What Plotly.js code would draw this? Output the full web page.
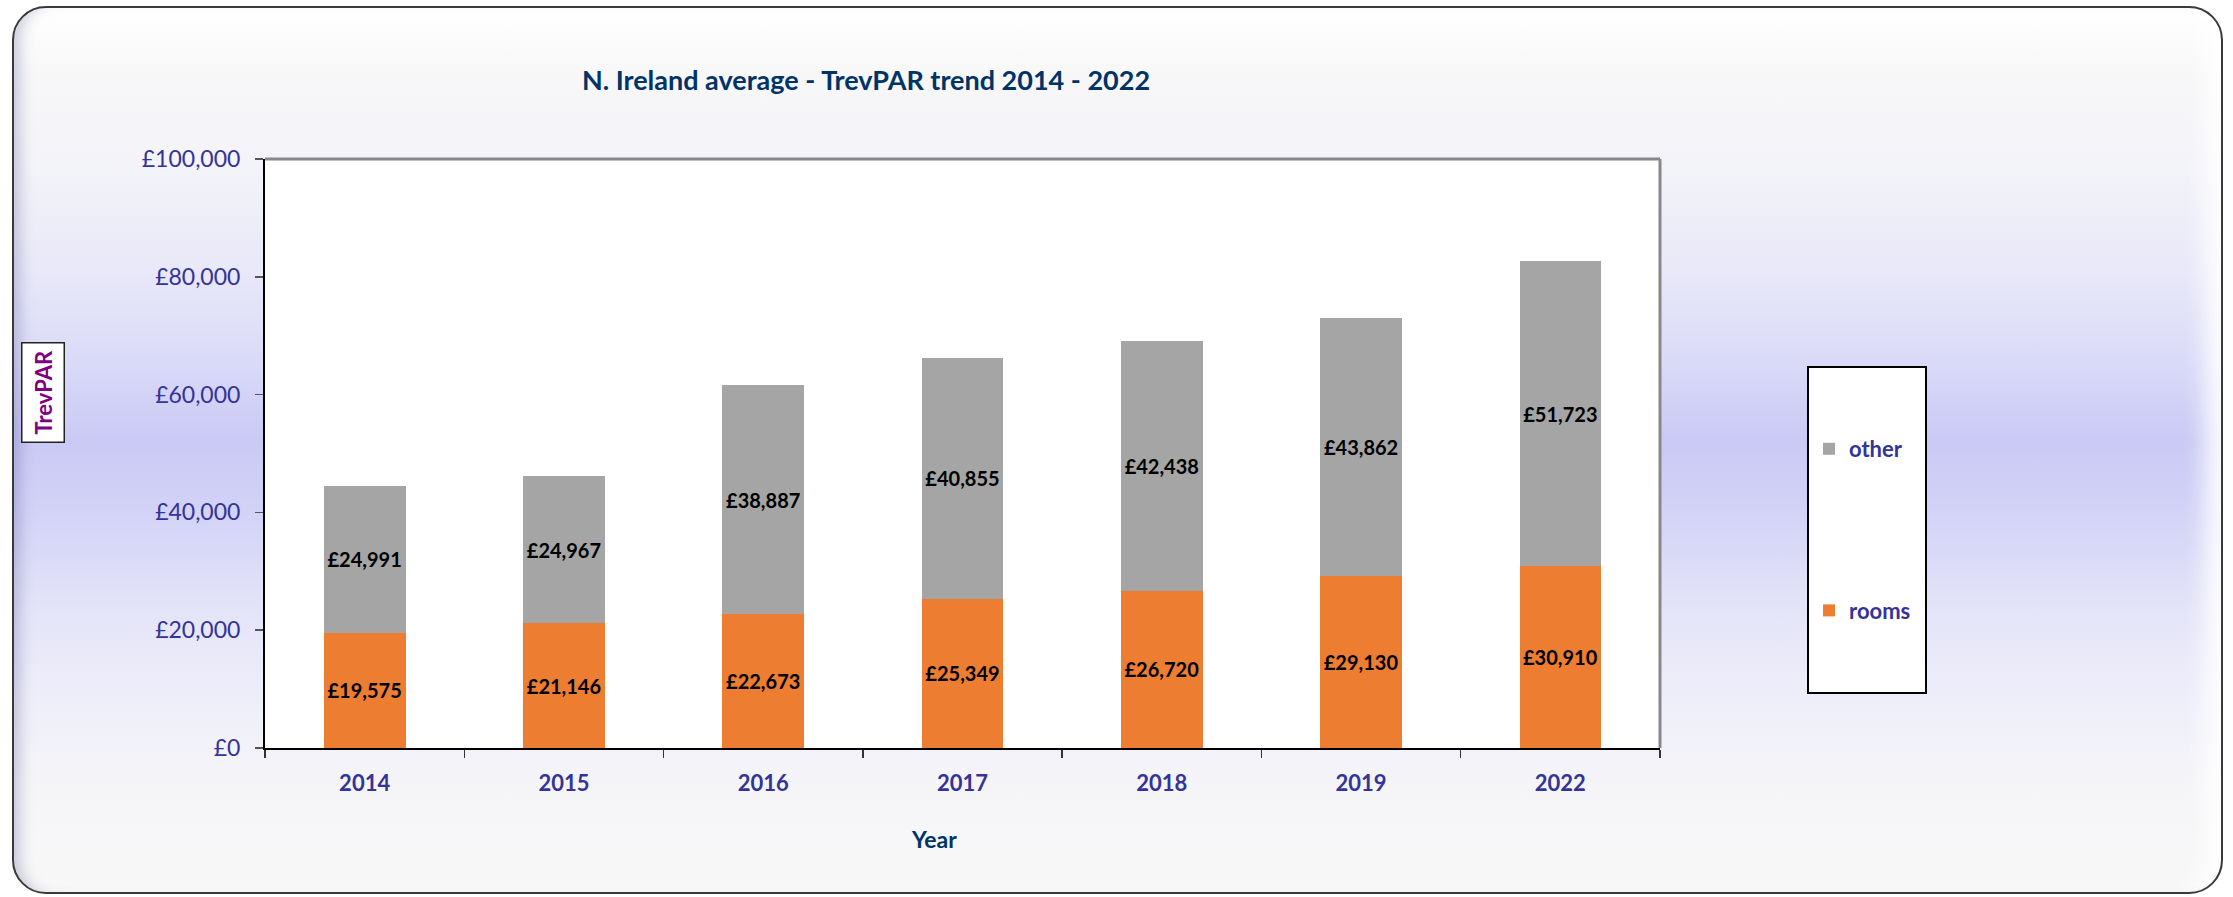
<!DOCTYPE html>
<html>
<head>
<meta charset="utf-8">
<script src="https://cdn.plot.ly/plotly-3.0.1.min.js"></script>
<style>
  html, body { margin: 0; padding: 0; background: #ffffff; }
  #wrap { position: relative; width: 2233px; height: 897px; overflow: hidden; }
  #frame {
    position: absolute; left: 12px; top: 6px; width: 2207px; height: 884px;
    border: 2px solid #3a3a3a; border-radius: 34px;
    background: linear-gradient(to bottom,
      #ffffff 0%, #f7f7f8 8%, #f3f3f9 18%, #e8e8f8 30%, #dadaf8 40%,
      #c9c9f5 49%, #d4d4f7 58%, #e4e4f8 68%, #eeeefa 78%, #f5f5f8 88%, #f8f8f8 100%);
    box-shadow: inset 14px 0 14px -8px rgba(60,60,130,0.25), inset -30px 0 22px -14px rgba(255,255,255,0.9);
  }
  #chart { position: absolute; left: 0; top: 0; width: 2233px; height: 897px; }
</style>
</head>
<body>
<div id="wrap">
  <div id="frame"></div>
  <div id="chart"></div>
</div>
<script>
const years = ['2014', '2015', '2016', '2017', '2018', '2019', '2022'];
const rooms = [19575, 21146, 22673, 25349, 26720, 29130, 30910];
const other = [24991, 24967, 38887, 40855, 42438, 43862, 51723];
const yTickVals = [0, 20000, 40000, 60000, 80000, 100000];
const yTickText = ['£0', '£20,000', '£40,000', '£60,000', '£80,000', '£100,000'];

const FONT = 'Lato, "Open Sans", sans-serif';

const labelFont = { family: FONT, size: 20, color: '#000000', weight: 'bold' };

const traces = [
  {
    type: 'bar', name: 'rooms', x: years, y: rooms,
    marker: { color: '#ED7D31', line: { width: 0 } },
    texttemplate: '£%{y:,.0f}', textposition: 'inside', insidetextanchor: 'middle',
    textangle: 0, textfont: labelFont, legendgroup: 'rooms', legendrank: 2, hoverinfo: 'x+y'
  },
  {
    type: 'bar', name: 'other', x: years, y: other,
    marker: { color: '#A5A5A5', line: { width: 0 } },
    texttemplate: '£%{y:,.0f}', textposition: 'inside', insidetextanchor: 'middle',
    textangle: 0, textfont: labelFont, legendgroup: 'other', legendrank: 1, hoverinfo: 'x+y'
  }
];

const L = 265, R = 1660, T = 159, B = 748, W = 2233, H = 897;
const px = (x) => (x - L) / (R - L);
const py = (y) => (B - y) / (B - T);

const layout = {
  width: W, height: H,
  margin: { l: L, r: W - R, t: T, b: H - B, pad: 0 },
  paper_bgcolor: 'rgba(0,0,0,0)',
  plot_bgcolor: '#ffffff',
  barmode: 'stack',
  bargap: 0.59,
  showlegend: true,
  font: { family: FONT, color: '#333399' },
  title: {
    text: 'N. Ireland average - TrevPAR trend 2014 - 2022',
    font: { family: FONT, size: 27, color: '#003366', weight: 'bold' },
    x: 866 / W, xanchor: 'center', xref: 'container',
    y: 1 - 81 / H, yanchor: 'middle', yref: 'container'
  },
  xaxis: {
    type: 'category',
    showline: true, linecolor: '#000000', linewidth: 2,
    ticks: 'outside', ticklen: 8, tickwidth: 1.5, tickcolor: '#333333',
    tickson: 'boundaries',
    ticklabelstandoff: 15,
    tickfont: { family: FONT, size: 22, color: '#333399', weight: 'bold' },
    showgrid: false, zeroline: false, fixedrange: true
  },
  yaxis: {
    range: [0, 100000],
    tickmode: 'array',
    tickvals: yTickVals,
    ticktext: yTickText,
    showline: true, linecolor: '#000000', linewidth: 2,
    ticks: 'outside', ticklen: 8, tickwidth: 1.5, tickcolor: '#555555',
    ticklabelstandoff: 10,
    tickfont: { family: FONT, size: 23, color: '#333399' },
    showgrid: false, zeroline: false, fixedrange: true
  },
  legend: {
    x: px(1809), xanchor: 'left',
    y: py(428), yanchor: 'top',
    bgcolor: 'rgba(0,0,0,0)', borderwidth: 0,
    traceorder: 'grouped',
    tracegroupgap: 130,
    font: { family: FONT, size: 22, color: '#333399', weight: 'bold' }
  },
  shapes: [
    { type: 'rect', xref: 'paper', yref: 'paper', x0: px(1808), x1: px(1926), y0: py(693), y1: py(367),
      fillcolor: '#ffffff', line: { color: '#000000', width: 2 }, layer: 'below' },
    { type: 'line', xref: 'paper', yref: 'paper', x0: 0, x1: 1, y0: 1, y1: 1,
      line: { color: '#888888', width: 3 } },
    { type: 'line', xref: 'paper', yref: 'paper', x0: 1, x1: 1, y0: 0, y1: 1,
      line: { color: '#888888', width: 3 } }
  ],
  annotations: [
    { text: 'TrevPAR', xref: 'paper', yref: 'paper', x: px(43), y: py(393),
      xanchor: 'center', yanchor: 'middle', showarrow: false, textangle: -90,
      font: { family: FONT, size: 22, color: '#800080', weight: 'bold' },
      bgcolor: '#ffffff', bordercolor: '#222222', borderwidth: 1.5, borderpad: 7 },
    { text: 'Year', xref: 'paper', yref: 'paper', x: px(934), y: py(839),
      xanchor: 'center', yanchor: 'middle', showarrow: false,
      font: { family: FONT, size: 23, color: '#003366', weight: 'bold' } }
  ]
};

Plotly.newPlot('chart', traces, layout, { displayModeBar: false, staticPlot: true });
</script>
</body>
</html>
